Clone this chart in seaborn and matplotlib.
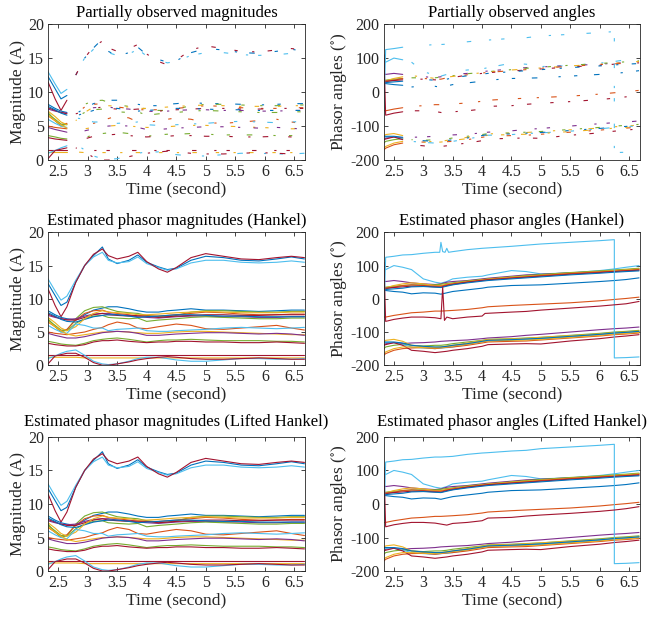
import matplotlib
matplotlib.use('Agg')
import pandas as pd
import matplotlib.pyplot as plt
from matplotlib.ticker import FuncFormatter
import seaborn as sns

sns.set_theme(style='ticks')
plt.rcParams['font.family'] = ['Liberation Serif', 'DejaVu Serif']
plt.rcParams['mathtext.fontset'] = 'stix'
plt.rcParams['axes.unicode_minus'] = False

# matlab default colour order
BLUE, ORANGE, YELLOW, PURPLE = '#0072BD', '#D95319', '#EDB120', '#7E2F8E'
GREEN, LBLUE, RED = '#77AC30', '#4DBEEE', '#A2142F'

# ---- magnitudes (A) ----
t_mag = [2.33, 2.45, 2.55, 2.65, 2.8, 2.95, 3.1, 3.25, 3.35, 3.5, 3.7, 3.85,
         4.0, 4.2, 4.35, 4.5, 4.75, 5.0, 5.3, 5.6, 5.9, 6.2, 6.45, 6.67]

mag_hi_blue = [12.3, 10.5, 9.0, 9.5, 12.5, 15.0, 16.5, 17.8, 16.0, 15.3, 15.8, 16.6,
               15.5, 14.8, 14.4, 14.6, 15.8, 16.4, 16.2, 15.8, 15.7, 16.0, 16.3, 16.0]
mag_hi_lblue = [13.0, 11.2, 9.8, 10.4, 12.8, 15.0, 16.3, 17.0, 15.8, 15.4, 15.6, 16.3,
                15.3, 14.7, 14.3, 14.5, 15.4, 15.8, 15.8, 15.5, 15.4, 15.5, 15.7, 15.5]
mag_hi_red = [11.5, 9.0, 7.3, 8.8, 12.5, 15.0, 16.7, 17.5, 16.5, 16.0, 16.4, 17.0,
              15.6, 14.5, 14.0, 14.7, 16.2, 16.8, 16.4, 16.0, 15.9, 16.2, 16.4, 16.2]
mag_mid_blue = [8.2, 7.6, 7.2, 7.0, 6.8, 7.6, 8.3, 8.6, 8.8, 8.8, 8.5, 8.2,
                8.0, 8.0, 8.2, 8.3, 8.5, 8.3, 8.3, 8.2, 8.1, 8.2, 8.3, 8.3]
mag_mid_green = [7.0, 5.8, 5.0, 5.3, 7.0, 8.2, 8.7, 8.8, 8.5, 8.1, 7.9, 7.8,
                 7.5, 7.3, 7.3, 7.5, 8.0, 8.2, 8.2, 8.1, 8.0, 8.0, 8.1, 8.1]
mag_mid_orange = [6.5, 5.8, 5.2, 5.4, 6.8, 7.8, 8.2, 8.3, 8.0, 7.8, 7.6, 7.4,
                  7.4, 7.4, 7.5, 7.6, 7.8, 8.0, 7.9, 7.7, 7.6, 7.6, 7.7, 7.7]
mag_mid_purple = [7.5, 7.2, 7.0, 6.9, 7.0, 7.4, 7.7, 7.8, 7.8, 7.6, 7.5, 7.3,
                  7.2, 7.1, 7.2, 7.3, 7.4, 7.4, 7.3, 7.3, 7.2, 7.2, 7.3, 7.3]
mag_mid_red = [7.7, 7.3, 7.0, 6.8, 6.8, 7.2, 7.6, 7.8, 7.6, 7.5, 7.4, 7.5,
               7.4, 7.2, 7.3, 7.4, 7.5, 7.6, 7.6, 7.5, 7.5, 7.6, 7.6, 7.6]
mag_mid_green2 = [6.8, 6.0, 5.3, 5.2, 6.3, 7.0, 7.4, 7.5, 7.2, 7.1, 7.0, 7.1,
                  6.6, 6.8, 6.9, 7.0, 7.2, 7.3, 7.2, 7.1, 7.0, 7.0, 7.1, 7.1]
mag_mid_blue2 = [7.9, 7.4, 6.9, 6.6, 6.5, 6.9, 7.3, 7.5, 7.6, 7.6, 7.4, 7.2,
                 7.3, 7.4, 7.5, 7.6, 7.6, 7.5, 7.4, 7.4, 7.3, 7.3, 7.3, 7.3]
mag_mid_yellow = [7.2, 6.4, 5.6, 5.2, 5.8, 7.0, 7.8, 8.2, 8.0, 7.9, 7.8, 7.6,
                  7.6, 7.7, 7.8, 7.9, 8.0, 8.1, 8.0, 7.9, 7.9, 7.9, 8.0, 8.0]
mag_lo_orange = [5.0, 4.8, 4.7, 4.6, 4.8, 5.0, 5.4, 5.7, 6.1, 6.5, 6.2, 5.6,
                 5.5, 5.8, 6.0, 6.2, 6.0, 5.5, 5.4, 5.6, 5.8, 6.0, 5.6, 5.3]
mag_lo_lblue = [6.0, 5.4, 5.0, 4.8, 6.2, 6.0, 5.6, 5.6, 5.2, 5.4, 5.5, 5.6,
                5.2, 5.1, 5.1, 5.2, 5.3, 5.4, 5.6, 5.7, 5.6, 5.5, 5.6, 5.7]
mag_lo_yellow = [6.6, 5.8, 5.2, 4.7, 4.4, 4.6, 4.8, 5.0, 5.0, 5.1, 5.0, 4.9,
                 4.8, 4.8, 4.9, 5.0, 5.1, 5.1, 5.0, 4.9, 4.8, 4.7, 4.6, 4.6]
mag_lo_purple = [4.8, 4.5, 4.3, 4.1, 4.1, 4.3, 4.6, 4.9, 5.0, 5.1, 5.0, 4.8,
                 4.5, 4.5, 4.6, 4.7, 4.8, 4.9, 4.9, 4.8, 4.7, 4.8, 4.7, 4.5]
mag_lo_green = [3.6, 3.4, 3.2, 3.1, 3.0, 3.3, 3.7, 3.9, 4.0, 4.1, 3.9, 3.7,
                3.5, 3.7, 3.8, 3.8, 3.9, 3.8, 3.7, 3.7, 3.7, 3.6, 3.6, 3.5]
mag_lo_red = [3.3, 3.1, 3.0, 2.9, 2.9, 3.1, 3.5, 3.7, 3.7, 3.8, 3.6, 3.5,
              3.4, 3.5, 3.5, 3.6, 3.6, 3.5, 3.5, 3.4, 3.4, 3.5, 3.4, 3.3]
mag_bot_red = [1.5, 1.5, 1.5, 1.5, 1.5, 1.5, 1.5, 1.5, 1.5, 1.5, 1.5, 1.5,
               1.5, 1.5, 1.5, 1.5, 1.5, 1.5, 1.5, 1.5, 1.5, 1.5, 1.5, 1.5]
mag_bot_yellow = [1.2, 1.2, 1.2, 1.2, 1.2, 1.1, 1.1, 1.1, 1.1, 1.1, 1.1, 1.1,
                  1.1, 1.1, 1.1, 1.1, 1.1, 1.1, 1.1, 1.1, 1.1, 1.1, 1.1, 1.1]
mag_bot_lblue = [1.0, 1.4, 1.8, 2.1, 2.3, 1.5, 0.6, 0.2, 0.1, 0.2, 0.6, 1.0,
                 1.2, 1.2, 1.0, 0.8, 0.6, 0.6, 0.8, 1.0, 1.0, 0.9, 0.9, 1.0]
mag_bot_dred = [0.2, 1.4, 1.6, 1.8, 1.8, 1.2, 0.4, 0.0, 0.0, 0.2, 0.5, 0.8,
                1.0, 1.2, 1.3, 1.2, 1.0, 0.9, 0.9, 1.0, 1.1, 1.0, 0.9, 0.9]

# ---- angles (degrees) ----
t_ang = [2.33, 2.36, 2.5, 2.65, 2.8, 3.0, 3.2, 3.3, 3.4, 3.5, 3.75,
         4.0, 4.1, 4.5, 4.75, 5.0, 5.5, 6.0, 6.25, 6.25, 6.45, 6.67]

ang_top_lblue = [-50, 125, 128, 132, 133, 137, 140, 140, 141, 142, 148,
                 152, 153, 158, 160, 165, 170, 175, 178, -178, -177, -175]
ang_lblue2 = [90, 88, 100, 95, 88, 60, 50, 47, 52, 60, 65,
              68, 72, 85, 82, 75, 78, 85, 90, 90, 95, 100]
ang_purple = [55, 52, 55, 52, 48, 45, 43, 45, 50, 52, 55,
              60, 62, 68, 72, 74, 78, 82, 85, 85, 87, 90]
ang_green = [35, 35, 38, 40, 42, 42, 42, 44, 46, 48, 54,
             58, 60, 66, 70, 73, 79, 84, 87, 87, 89, 92]
ang_yellow = [30, 33, 40, 45, 48, 45, 40, 40, 44, 46, 52,
              57, 59, 65, 68, 71, 77, 82, 85, 85, 87, 90]
ang_orange = [28, 30, 35, 40, 42, 40, 38, 38, 42, 45, 51,
              56, 58, 63, 66, 70, 76, 81, 83, 83, 85, 88]
ang_red = [32, 32, 34, 36, 38, 38, 36, 35, 40, 43, 50,
           55, 57, 62, 65, 68, 74, 79, 82, 82, 84, 86]
ang_blue = [30, 28, 30, 32, 36, 37, 35, 34, 38, 42, 48,
            53, 55, 60, 63, 66, 72, 77, 80, 80, 82, 84]
ang_blue_low = [25, 25, 22, 20, 15, 18, 17, 14, 18, 22, 27,
                32, 35, 40, 41, 42, 47, 52, 55, 55, 58, 63]
ang_mid_orange = [-55, -55, -50, -46, -42, -40, -37, -37, -36, -35, -32,
                  -27, -24, -20, -18, -16, -12, -6, -2, -2, 1, 5]
ang_mid_red = [110, -68, -62, -58, -55, -55, -57, -60, -63, -58, -55,
               -50, -42, -40, -36, -33, -28, -22, -18, -18, -14, -8]
ang_b_purple = [-140, -135, -132, -135, -133, -132, -130, -128, -127, -126, -124,
                -120, -118, -114, -110, -107, -100, -93, -90, -90, -88, -85]
ang_b_green = [-150, -145, -140, -137, -140, -142, -140, -140, -138, -135, -130,
               -125, -122, -120, -118, -116, -110, -104, -100, -100, -98, -95]
ang_b_yellow = [-130, -125, -122, -128, -140, -145, -146, -145, -142, -140, -133,
                -126, -123, -121, -119, -116, -111, -106, -102, -102, -100, -97]
ang_b_lblue = [-133, -132, -132, -138, -145, -148, -150, -148, -147, -145, -138,
               -130, -127, -125, -122, -120, -115, -108, -104, -104, -102, -99]
ang_b_orange = [-170, -165, -155, -150, -148, -147, -150, -148, -146, -145, -140,
                -133, -130, -128, -127, -124, -118, -112, -108, -108, -106, -103]
ang_b_red = [-140, -138, -132, -140, -155, -158, -162, -160, -158, -155, -150,
             -143, -138, -136, -135, -136, -127, -120, -115, -115, -112, -108]
ang_b_yellow2 = [-165, -160, -150, -145, -145, -147, -148, -147, -145, -142, -137,
                 -130, -127, -125, -124, -122, -116, -110, -106, -106, -104, -101]
ang_b_blue = [-130, -130, -130, -133, -140, -143, -145, -145, -143, -140, -135,
              -128, -125, -123, -121, -119, -113, -107, -103, -103, -101, -98]

# Hankel estimate has glitches on two traces
t_hk_red = [2.33, 2.36, 2.5, 2.65, 2.8, 3.0, 3.2, 3.3, 3.33, 3.36, 3.4,
            3.5, 3.75, 4.0, 4.05, 4.5, 4.75, 5.0, 5.5, 6.0, 6.45, 6.67]
hk_mid_red = [110, -68, -62, -58, -55, -55, -57, -60, 35, -65, -55,
              -60, -55, -52, -44, -40, -38, -34, -28, -22, -15, -8]
t_hk_top = [2.33, 2.36, 2.5, 2.65, 2.8, 3.0, 3.2, 3.28, 3.3, 3.33, 3.37, 3.4,
            3.43, 3.5, 3.75, 4.0, 4.5, 5.0, 5.5, 6.0, 6.25, 6.25, 6.45, 6.67]
hk_top_lblue = [-50, 125, 128, 132, 133, 137, 140, 140, 170, 142, 140, 152,
                140, 142, 148, 152, 158, 165, 170, 175, 178, -178, -177, -175]

mag_traces = [
    (t_mag, mag_hi_blue, BLUE), (t_mag, mag_hi_lblue, LBLUE), (t_mag, mag_hi_red, RED),
    (t_mag, mag_mid_blue, BLUE), (t_mag, mag_mid_green, GREEN), (t_mag, mag_mid_orange, ORANGE),
    (t_mag, mag_mid_purple, PURPLE), (t_mag, mag_mid_red, RED), (t_mag, mag_mid_green2, GREEN),
    (t_mag, mag_mid_blue2, BLUE), (t_mag, mag_mid_yellow, YELLOW), (t_mag, mag_lo_orange, ORANGE),
    (t_mag, mag_lo_lblue, LBLUE), (t_mag, mag_lo_yellow, YELLOW), (t_mag, mag_lo_purple, PURPLE),
    (t_mag, mag_lo_green, GREEN), (t_mag, mag_lo_red, RED), (t_mag, mag_bot_red, RED),
    (t_mag, mag_bot_yellow, YELLOW), (t_mag, mag_bot_lblue, LBLUE), (t_mag, mag_bot_dred, RED),
]
ang_common = [
    (t_ang, ang_lblue2, LBLUE), (t_ang, ang_purple, PURPLE), (t_ang, ang_green, GREEN),
    (t_ang, ang_yellow, YELLOW), (t_ang, ang_orange, ORANGE), (t_ang, ang_red, RED),
    (t_ang, ang_blue, BLUE), (t_ang, ang_blue_low, BLUE), (t_ang, ang_mid_orange, ORANGE),
    (t_ang, ang_b_purple, PURPLE), (t_ang, ang_b_green, GREEN), (t_ang, ang_b_yellow, YELLOW),
    (t_ang, ang_b_lblue, LBLUE), (t_ang, ang_b_orange, ORANGE), (t_ang, ang_b_red, RED),
    (t_ang, ang_b_yellow2, YELLOW), (t_ang, ang_b_blue, BLUE),
]
ang_lifted = ang_common + [(t_ang, ang_top_lblue, LBLUE), (t_ang, ang_mid_red, RED)]
ang_hankel = ang_common + [(t_hk_top, hk_top_lblue, LBLUE), (t_hk_red, hk_mid_red, RED)]


def long_frame(traces):
    rows, pal = [], {}
    for i, (t, v, c) in enumerate(traces):
        name = f'tr{i:02d}'
        pal[name] = c
        rows.append(pd.DataFrame({'t': t, 'v': v, 'trace': name}))
    return pd.concat(rows, ignore_index=True), pal


def draw(ax, df, pal):
    sns.lineplot(data=df, x='t', y='v', hue='trace', palette=pal, estimator=None,
                 sort=False, legend=False, lw=0.8, ax=ax)


def draw_partial(ax, df, pal):
    # solid start, then only scattered observed pieces
    draw(ax, df[df['t'] <= 2.65], pal)
    n0 = len(ax.lines)
    draw(ax, df[df['t'] >= 2.8], pal)
    patterns = [(3, 14, 2, 11, 5, 18), (4, 16, 2, 9, 3, 20), (2, 12, 4, 17, 3, 13),
                (5, 19, 2, 12, 3, 15)]
    for k, ln in enumerate(ax.lines[n0:]):
        ln.set_linestyle((k * 7 % 23, patterns[k % 4]))


def style(ax, title, ylabel, ylim, yticks, pad=5):
    ax.set_xlim(2.33, 6.68)
    ax.set_ylim(*ylim)
    ax.set_xticks([2.5, 3, 3.5, 4, 4.5, 5, 5.5, 6, 6.5])
    ax.set_yticks(yticks)
    ax.xaxis.set_major_formatter(FuncFormatter(lambda x, p: f'{x:g}'))
    ax.tick_params(direction='in', top=True, right=True, length=3, width=0.6,
                   labelsize=11.5, colors='#262626', pad=3)
    for s in ax.spines.values():
        s.set_linewidth(0.6)
        s.set_color('#262626')
    ax.set_title(title, fontsize=12, color='black', pad=pad)
    ax.set_xlabel('Time (second)', fontsize=12.5, color='#262626', labelpad=1)
    ax.set_ylabel(ylabel, fontsize=12.5, color='#262626', labelpad=1)


fig = plt.figure(figsize=(6.54, 6.18), dpi=100)
lefts = [0.0734, 0.587]
bottoms = [0.741, 0.409, 0.076]
heights = [0.220, 0.215, 0.217]

mag_df, mag_pal = long_frame(mag_traces)
lift_df, lift_pal = long_frame(ang_lifted)
hank_df, hank_pal = long_frame(ang_hankel)

mag_lab = 'Magnitude (A)'
ang_lab = r'Phasor angles ($^{\circ}$)'

ax = fig.add_axes([lefts[0], bottoms[0], 0.393, heights[0]])
draw_partial(ax, mag_df, mag_pal)
style(ax, 'Partially observed magnitudes', mag_lab, (0, 20), [0, 5, 10, 15, 20])

ax = fig.add_axes([lefts[1], bottoms[0], 0.391, heights[0]])
draw_partial(ax, lift_df, lift_pal)
style(ax, 'Partially observed angles', ang_lab, (-200, 200), [-200, -100, 0, 100, 200])

ax = fig.add_axes([lefts[0], bottoms[1], 0.393, heights[1]])
draw(ax, mag_df, mag_pal)
style(ax, 'Estimated phasor magnitudes (Hankel)', mag_lab, (0, 20), [0, 5, 10, 15, 20])

ax = fig.add_axes([lefts[1], bottoms[1], 0.391, heights[1]])
draw(ax, hank_df, hank_pal)
style(ax, 'Estimated phasor angles (Hankel)', ang_lab, (-200, 200), [-200, -100, 0, 100, 200])

ax = fig.add_axes([lefts[0], bottoms[2], 0.393, heights[2]])
draw(ax, mag_df, mag_pal)
style(ax, 'Estimated phasor magnitudes (Lifted Hankel)', mag_lab, (0, 20),
      [0, 5, 10, 15, 20], pad=8)

ax = fig.add_axes([lefts[1], bottoms[2], 0.391, heights[2]])
draw(ax, lift_df, lift_pal)
style(ax, 'Estimated phasor angles (Lifted Hankel)', ang_lab, (-200, 200),
      [-200, -100, 0, 100, 200], pad=8)

fig.savefig('out.png', dpi=100)
